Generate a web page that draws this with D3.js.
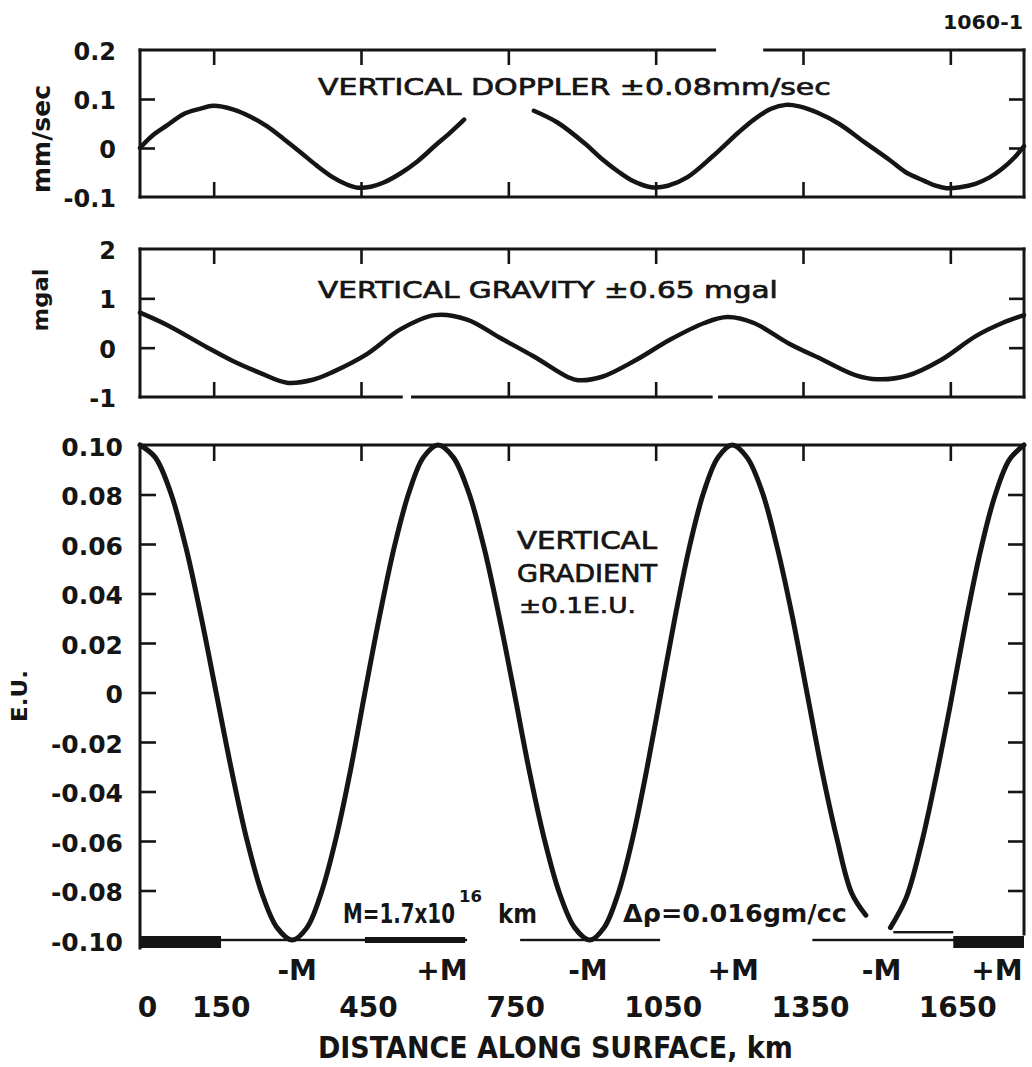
<!DOCTYPE html>
<html lang="en">
<head>
<meta charset="utf-8">
<title>Vertical Doppler, gravity and gradient along the surface</title>
<script src="https://cdn.jsdelivr.net/npm/d3@7/dist/d3.min.js"></script>
<style>
  html, body { margin: 0; padding: 0; background: #fff; }
  svg { display: block; }
  text { font-family: "DejaVu Sans", "Liberation Sans", sans-serif; fill: #151515; }
</style>
</head>
<body>
<svg id="chart" width="1032" height="1067"></svg>
<script>
// ---------------- data ----------------
const distanceTicks  = [150, 450, 750, 1050, 1350, 1650];
const distanceLabels = [0, 150, 450, 750, 1050, 1350, 1650];

const dopplerTicks      = [-0.1, 0, 0.1, 0.2];
const dopplerTickLabels = ["-0.1", "0", "0.1", "0.2"];
const gravityTicks      = [-1, 0, 1, 2];
const gravityTickLabels = ["-1", "0", "1", "2"];
const gradientTicks      = [-0.1, -0.08, -0.06, -0.04, -0.02, 0, 0.02, 0.04, 0.06, 0.08, 0.1];
const gradientTickLabels = ["-0.10", "-0.08", "-0.06", "-0.04", "-0.02", "0", "0.02", "0.04", "0.06", "0.08", "0.10"];

// vertical Doppler velocity, mm/sec (null = trace lost)
const dopplerKm = [0, 25, 55, 90, 122, 149, 189, 225, 259, 292, 326, 360, 393, 420, 444, 470, 495, 530, 564, 600, 630, 660,
  730,
  802, 850, 906, 940, 975, 1005, 1041, 1075, 1114, 1165, 1218, 1250, 1285, 1315, 1342, 1380, 1424, 1475, 1527, 1560, 1597,
  1620, 1642, 1670, 1701, 1730, 1756, 1780, 1800];
const dopplerMmSec = [0.0, 0.025, 0.046, 0.07, 0.08, 0.086, 0.079, 0.064, 0.044, 0.019, -0.008, -0.036, -0.06, -0.074, -0.081, -0.079, -0.071, -0.052, -0.028, 0.004, 0.03, 0.058,
  null,
  0.076, 0.052, 0.009, -0.022, -0.049, -0.068, -0.08, -0.077, -0.06, -0.018, 0.031, 0.058, 0.08, 0.088, 0.085, 0.072, 0.049, 0.012, -0.025, -0.05, -0.067,
  -0.077, -0.082, -0.08, -0.073, -0.06, -0.042, -0.02, 0.004];

// vertical gravity, mgal
const gravityKm = [0, 55, 136, 189, 244, 299, 352, 393, 462, 530, 600, 666, 733, 802, 872, 892, 941, 1010, 1079, 1149,
  1196, 1250, 1320, 1389, 1458, 1501, 1562, 1631, 1701, 1756, 1800];
const gravityMgal = [0.71, 0.46, 0.01, -0.27, -0.51, -0.71, -0.65, -0.49, -0.13, 0.37, 0.66, 0.57, 0.2, -0.18, -0.6, -0.66, -0.59, -0.25, 0.16, 0.5,
  0.62, 0.5, 0.09, -0.24, -0.56, -0.64, -0.57, -0.25, 0.23, 0.5, 0.66];

// vertical gravity gradient, E.U. (null = trace lost)
const gradientKm = [0, 31, 62, 93, 124, 155, 186, 217, 248, 279, 310,
  340, 369, 399, 429, 458, 488, 518, 548, 577, 607,
  638, 669, 700, 731, 762, 792, 823, 854, 885, 916,
  945, 974, 1003, 1032, 1061, 1090, 1119, 1148, 1177, 1206,
  1236, 1267, 1297, 1328, 1358, 1388, 1419, 1449, 1478, 1503,
  1528, 1560, 1590, 1620, 1650, 1680, 1710, 1740, 1770, 1800];
const gradientEU = [0.1, 0.095, 0.081, 0.059, 0.031, 0, -0.031, -0.059, -0.081, -0.095, -0.1,
  -0.095, -0.081, -0.059, -0.031, 0, 0.031, 0.059, 0.081, 0.095, 0.1,
  0.095, 0.081, 0.059, 0.031, 0, -0.031, -0.059, -0.081, -0.095, -0.1,
  -0.095, -0.081, -0.059, -0.031, 0, 0.031, 0.059, 0.081, 0.095, 0.1,
  0.095, 0.081, 0.059, 0.031, 0, -0.031, -0.059, -0.081, -0.09, null,
  -0.095, -0.083, -0.062, -0.035, -0.005, 0.027, 0.056, 0.079, 0.094, 0.1];

// anomalous masses along the profile
const massKm     = [320, 615, 912, 1208, 1510, 1745];
const massLabels = ["-M", "+M", "-M", "+M", "-M", "+M"];
// mass strip drawn along the -0.10 line: [from km, to km, kind]
const massStrip = [[0, 165, "heavy"], [165, 666, "thin"], [458, 662, "medium"], [774, 1059, "thin"],
  [1369, 1800, "thin"], [1534, 1656, "upper"], [1656, 1800, "heavy"]];

// breaks in the frame lines, km
const dopplerTopBreaks    = [[1170, 1272]];
const gravityBottomBreaks = [[532, 555], [1163, 1180]];

// ---------------- drawing ----------------
const svg = d3.select("#chart");
const ink = "#151515";

const x = d3.scaleLinear().domain([0, 1800]).range([140, 1024]);
const yD = d3.scaleLinear().domain([-0.1, 0.2]).range([197, 50]);
const yG = d3.scaleLinear().domain([-1, 2]).range([397, 249]);
const yE = d3.scaleLinear().domain([-0.1, 0.1]).range([940, 445]);

const zip = (a, b) => a.map((k, i) => [k, b[i]]);

// horizontal frame line with optional breaks
function hLine(y, breaks = []) {
  let start = 0;
  const segs = [];
  breaks.forEach(([a, b]) => { segs.push([start, a]); start = b; });
  segs.push([start, 1800]);
  svg.append("g").selectAll("line").data(segs).join("line")
    .attr("x1", d => x(d[0])).attr("x2", d => x(d[1]))
    .attr("y1", y).attr("y2", y)
    .attr("stroke", ink).attr("stroke-width", 3).attr("stroke-linecap", "square");
}
function vLine(xp, y1, y2) {
  svg.append("line").attr("x1", xp).attr("x2", xp).attr("y1", y1).attr("y2", y2)
    .attr("stroke", ink).attr("stroke-width", 3).attr("stroke-linecap", "square");
}
function styleTicks(g) {
  g.select(".domain").remove();
  g.selectAll(".tick line").attr("stroke", ink).attr("stroke-width", 2.6);
}
// inward tick marks on all four sides of a panel
function innerTicks(y, yVals, opts) {
  const { top, bottom, len } = opts;
  const left = x(0), right = x(1800);
  svg.append("g").attr("transform", `translate(0,${top})`)
    .call(d3.axisBottom(x).tickValues(distanceTicks).tickSizeInner(len).tickSizeOuter(0).tickFormat(""))
    .call(styleTicks);
  if (opts.bottomTicks) {
    svg.append("g").attr("transform", `translate(0,${bottom})`)
      .call(d3.axisTop(x).tickValues(distanceTicks).tickSizeInner(len).tickSizeOuter(0).tickFormat(""))
      .call(styleTicks);
  }
  svg.append("g").attr("transform", `translate(${left},0)`)
    .call(d3.axisRight(y).tickValues(yVals).tickSizeInner(len).tickSizeOuter(0).tickFormat(""))
    .call(styleTicks);
  svg.append("g").attr("transform", `translate(${right},0)`)
    .call(d3.axisLeft(y).tickValues(yVals).tickSizeInner(len).tickSizeOuter(0).tickFormat(""))
    .call(styleTicks);
}
function tickLabels(y, vals, labels, padding, size) {
  svg.append("g").attr("transform", `translate(${x(0)},0)`)
    .call(d3.axisLeft(y).tickValues(vals).tickFormat((d, i) => labels[i]).tickSize(0).tickPadding(padding))
    .call(g => g.select(".domain").remove())
    .call(g => g.selectAll("text")
      .attr("font-family", '"DejaVu Sans", sans-serif')
      .attr("font-size", size).attr("font-weight", "bold")
      .attr("fill", ink).attr("dy", "0.4em"));
}
function trace(y, data, width) {
  const line = d3.line()
    .defined(d => d[1] !== null)
    .x(d => x(d[0])).y(d => y(d[1]))
    .curve(d3.curveCatmullRom.alpha(0.5));
  svg.append("path").datum(data).attr("d", line)
    .attr("fill", "none").attr("stroke", ink).attr("stroke-width", width)
    .attr("stroke-linejoin", "round").attr("stroke-linecap", "round");
}
// text squeezed horizontally to a given width (hand-lettered look)
function label(txt, xp, yp, size, weight, width) {
  const t = svg.append("text").attr("font-size", size).attr("font-weight", weight).text(txt);
  if (weight === "normal") t.attr("stroke", ink).attr("stroke-width", 0.7);
  const w = t.node().getComputedTextLength();
  const sx = width ? width / w : 1;
  t.attr("transform", `translate(${xp},${yp}) scale(${sx},1)`);
  return t;
}
function vLabel(txt, xp, yp, size, length) {
  const t = svg.append("text").attr("text-anchor", "middle")
    .attr("font-size", size).attr("font-weight", "bold").text(txt);
  const w = t.node().getComputedTextLength();
  t.attr("transform", `translate(${xp},${yp}) rotate(-90) scale(${length / w},1)`);
}

// --- panel 1: vertical Doppler ---
hLine(yD(0.2), dopplerTopBreaks);
hLine(yD(-0.1));
vLine(x(0), yD(0.2), yD(-0.1));
vLine(x(1800), yD(0.2), yD(-0.1));
innerTicks(yD, [0, 0.1], { top: yD(0.2), bottom: yD(-0.1), len: 15, bottomTicks: true });
tickLabels(yD, dopplerTicks, dopplerTickLabels, 24, 24);
trace(yD, zip(dopplerKm, dopplerMmSec), 4.5);
label("VERTICAL DOPPLER \u00B10.08mm/sec", 318, 95, 23, "normal", 513);
vLabel("mm/sec", 50, 139, 24, 108);

// --- panel 2: vertical gravity ---
hLine(yG(2));
hLine(yG(-1), gravityBottomBreaks);
vLine(x(0), yG(2), yG(-1));
vLine(x(1800), yG(2), yG(-1));
innerTicks(yG, [0, 1], { top: yG(2), bottom: yG(-1), len: 15, bottomTicks: true });
tickLabels(yG, gravityTicks, gravityTickLabels, 24, 24);
trace(yG, zip(gravityKm, gravityMgal), 4.5);
label("VERTICAL GRAVITY \u00B10.65 mgal", 318, 298, 23, "normal", 460);
vLabel("mgal", 48, 300, 21, 63);

// --- panel 3: vertical gradient ---
hLine(yE(0.1));
vLine(x(0), yE(0.1), yE(-0.1) + 8);
vLine(x(1800), yE(0.1), yE(-0.1) - 6);
innerTicks(yE, gradientTicks.slice(1, -1), { top: yE(0.1), bottom: yE(-0.1), len: 16, bottomTicks: false });
tickLabels(yE, gradientTicks, gradientTickLabels, 17, 25);

// mass strip along the bottom edge
const base = yE(-0.1);
const stripBox = { heavy: [-4, 8], medium: [-3, 3], thin: [-1.2, 1.2], upper: [-9, -6.6] };
svg.append("g").selectAll("rect").data(massStrip).join("rect")
  .attr("x", d => x(d[0])).attr("width", d => x(d[1]) - x(d[0]))
  .attr("y", d => base + stripBox[d[2]][0])
  .attr("height", d => stripBox[d[2]][1] - stripBox[d[2]][0])
  .attr("fill", ink);

trace(yE, zip(gradientKm, gradientEU), 5);

label("VERTICAL", 517, 549, 24, "normal", 140);
label("GRADIENT", 517, 582, 24, "normal", 140);
label("\u00B10.1E.U.", 519, 613, 22, "normal", 117);
vLabel("E.U.", 27, 696, 21, 52);

label("M=1.7x10", 343, 923, 26, "bold", 112);
label("16", 459, 902, 16, "bold", 23);
label("km", 498, 923, 26, "bold", 39);
label("\u0394\u03C1=0.016gm/cc", 623, 922, 24, "bold", 224);

// -M / +M markers
svg.append("g").selectAll("text").data(massKm).join("text")
  .attr("x", d => x(d)).attr("y", 980)
  .attr("text-anchor", "middle").attr("font-size", 28).attr("font-weight", "bold")
  .text((d, i) => massLabels[i]);

// distance axis labels
svg.append("g").attr("transform", `translate(7,${yE(-0.1)})`)
  .call(d3.axisBottom(x).tickValues(distanceLabels).tickSize(0).tickPadding(57).tickFormat(d3.format("d")))
  .call(g => g.select(".domain").remove())
  .call(g => g.selectAll("text")
    .attr("font-family", '"DejaVu Sans", sans-serif')
    .attr("font-size", 28).attr("font-weight", "bold").attr("fill", ink));

label("DISTANCE ALONG SURFACE, km", 318, 1058, 30, "bold", 475);
label("1060-1", 943, 29, 20, "bold", 80);
</script>
</body>
</html>
